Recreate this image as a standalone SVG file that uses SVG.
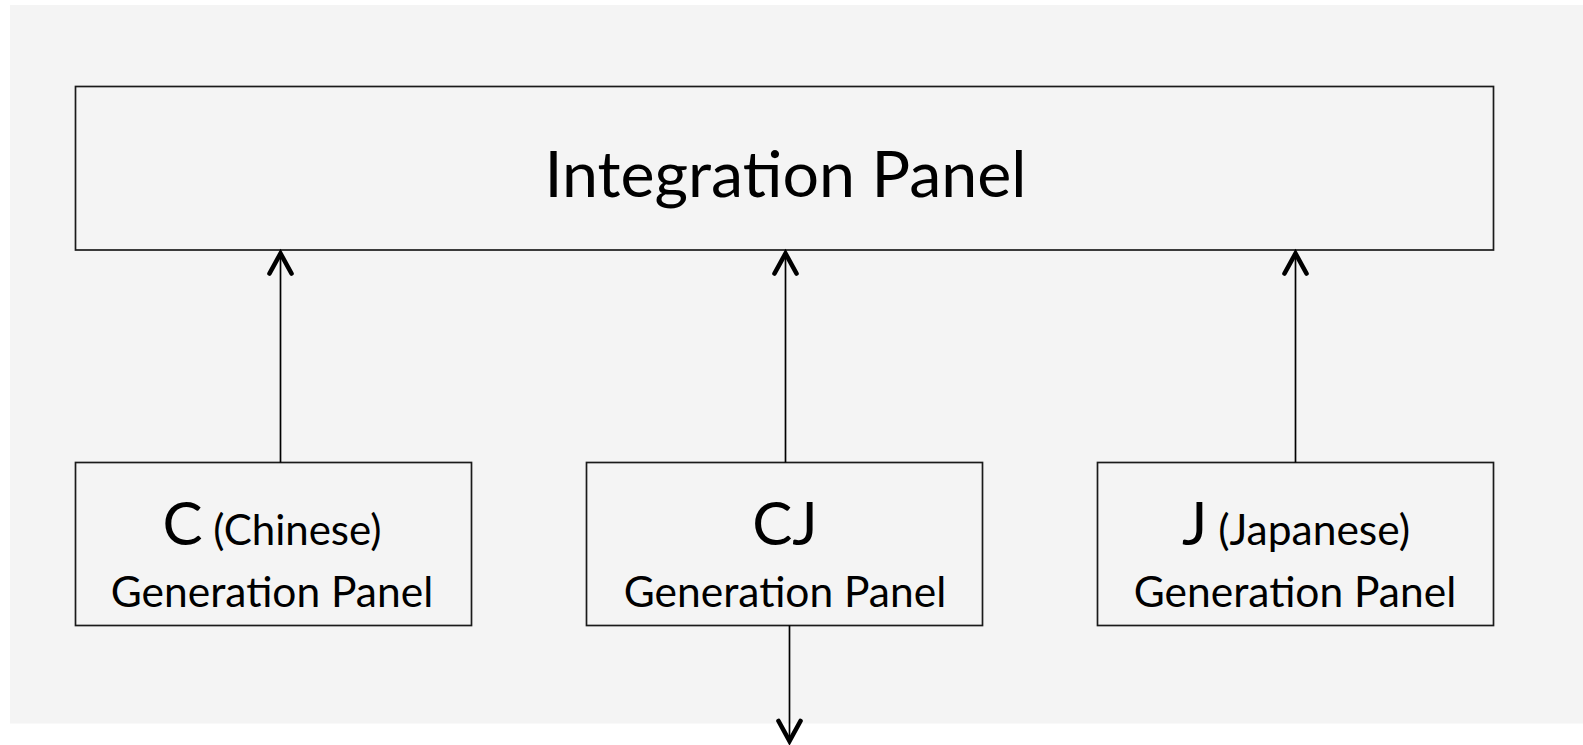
<svg xmlns="http://www.w3.org/2000/svg" width="1583" height="745" viewBox="0 0 1583 745">
<style>
.box{fill:#f4f4f4;stroke:#1a1a1a;stroke-width:1.7}
.t{font-family:Lato,"Open Sans","Liberation Sans",sans-serif;fill:#000;text-anchor:middle}
.conn{stroke:#000;stroke-width:1.7;fill:none}
</style>
<defs>
<marker id="arr" viewBox="-26 -16 32 32" refX="0" refY="0" markerWidth="32" markerHeight="32" markerUnits="userSpaceOnUse" orient="auto">
<path d="M-20,-11 L0,0 L-20,11" fill="none" stroke="#000" stroke-width="4.6" stroke-linejoin="miter" stroke-linecap="round"/>
</marker>
</defs>
<rect x="10" y="5" width="1573" height="718.5" fill="#f4f4f4"/>
<g id="integration">
<rect class="box" x="75.5" y="86.5" width="1418" height="163.5"/>
<text class="t" x="785.5" y="197" font-size="64.5">Integration Panel</text>
</g>
<g id="gen-c">
<rect class="box" x="75.5" y="462.5" width="396" height="163"/>
<text class="t" x="272" y="545" font-size="42"><tspan font-size="60">C</tspan> (Chinese)</text>
<text class="t" x="272" y="607" font-size="42.5">Generation Panel</text>
</g>
<g id="gen-cj">
<rect class="box" x="586.5" y="462.5" width="396" height="163"/>
<text class="t" x="785" y="545" font-size="60">CJ</text>
<text class="t" x="785" y="607" font-size="42.5">Generation Panel</text>
</g>
<g id="gen-j">
<rect class="box" x="1097.5" y="462.5" width="396" height="163"/>
<text class="t" x="1296" y="545" font-size="42.5"><tspan font-size="60">J</tspan> (Japanese)</text>
<text class="t" x="1295" y="607" font-size="42.5">Generation Panel</text>
</g>
<g id="connectors">
<line class="conn" x1="280.5" y1="462.5" x2="280.5" y2="253.5" marker-end="url(#arr)"/>
<line class="conn" x1="785.5" y1="462.5" x2="785.5" y2="253.5" marker-end="url(#arr)"/>
<line class="conn" x1="1295.5" y1="462.5" x2="1295.5" y2="253.5" marker-end="url(#arr)"/>
<line class="conn" x1="789.5" y1="625.5" x2="789.5" y2="741" marker-end="url(#arr)"/>
</g>
</svg>
